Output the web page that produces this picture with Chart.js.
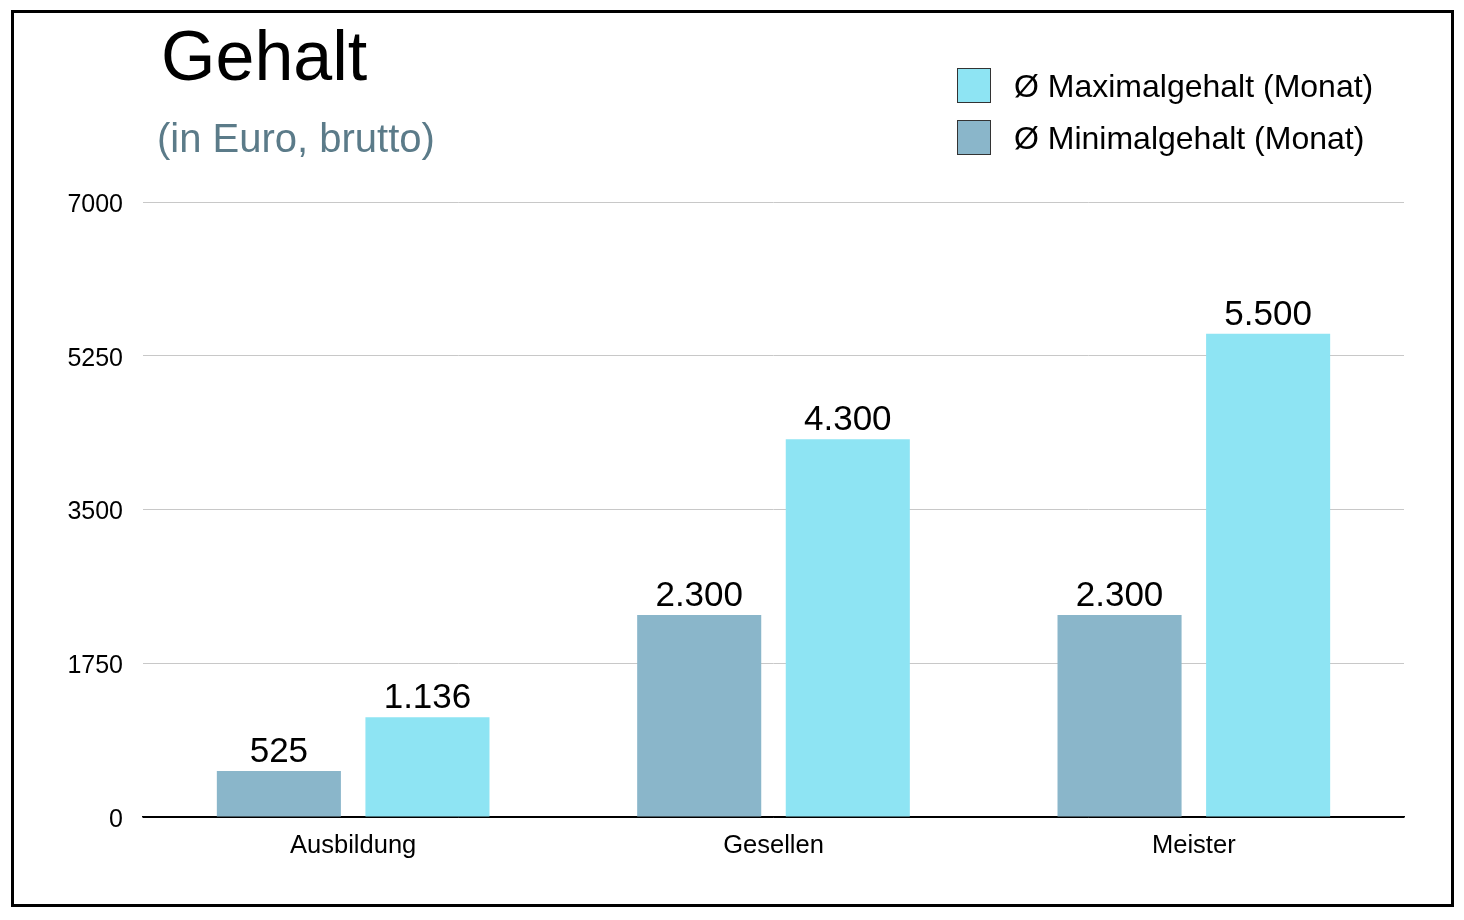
<!DOCTYPE html>
<html lang="de">
<head>
<meta charset="utf-8">
<title>Gehalt</title>
<script src="https://cdn.jsdelivr.net/npm/chart.js@4/dist/chart.umd.min.js"></script>
<style>
    html, body { margin: 0; padding: 0; background: #fff; }
    #wrap { position: relative; width: 1464px; height: 920px; }
    #frame {
        position: absolute; left: 11px; top: 10px; width: 1443px; height: 897px;
        border: 3px solid #000; box-sizing: border-box; pointer-events: none;
    }
</style>
</head>
<body>
<div id="wrap">
    <canvas id="salaryChart" width="1464" height="920"></canvas>
    <div id="frame"></div>
</div>
<script>
const categories = ['Ausbildung', 'Gesellen', 'Meister'];
const minSalary = [525, 2300, 2300];
const maxSalary = [1136, 4300, 5500];
const yTicks = [0, 1750, 3500, 5250, 7000];

const FONT = '"Liberation Sans", Arial, Helvetica, sans-serif';

// 1136 -> "1.136"
function formatDe(v) {
    return String(v).replace(/\B(?=(\d{3})+(?!\d))/g, '.');
}

const headerPlugin = {
    id: 'header',
    afterDraw(chart) {
        const ctx = chart.ctx;
        ctx.save();
        ctx.textAlign = 'left';
        ctx.textBaseline = 'alphabetic';
        ctx.fillStyle = '#000';
        ctx.font = '70px ' + FONT;
        ctx.fillText('Gehalt', 161, 80);
        ctx.fillStyle = '#5b7b89';
        ctx.font = '40px ' + FONT;
        ctx.fillText('(in Euro, brutto)', 157, 152);

        // legend, Maximalgehalt first
        const items = chart.data.datasets.slice().reverse();
        items.forEach((ds, i) => {
            const y = 68 + i * 52;
            ctx.fillStyle = ds.backgroundColor;
            ctx.fillRect(957, y, 33, 34);
            ctx.strokeStyle = '#333';
            ctx.lineWidth = 1;
            ctx.strokeRect(957.5, y + 0.5, 33, 34);
            ctx.fillStyle = '#000';
            ctx.font = '32px ' + FONT;
            ctx.textBaseline = 'middle';
            ctx.fillText(ds.label, 1014, y + 20);
        });
        ctx.restore();
    }
};

const valueLabelPlugin = {
    id: 'valueLabels',
    afterDatasetsDraw(chart) {
        const ctx = chart.ctx;
        ctx.save();
        ctx.fillStyle = '#000';
        ctx.font = '35px ' + FONT;
        ctx.textAlign = 'center';
        ctx.textBaseline = 'alphabetic';
        chart.data.datasets.forEach((ds, di) => {
            chart.getDatasetMeta(di).data.forEach((bar, i) => {
                ctx.fillText(formatDe(ds.data[i]), bar.x, bar.y - 9);
            });
        });
        ctx.restore();
    }
};

const ctx = document.getElementById('salaryChart').getContext('2d');
new Chart(ctx, {
    type: 'bar',
    data: {
        labels: categories,
        datasets: [{
            label: 'Ø Minimalgehalt (Monat)',
            data: minSalary,
            backgroundColor: '#8ab6ca'
        }, {
            label: 'Ø Maximalgehalt (Monat)',
            data: maxSalary,
            backgroundColor: '#8ee4f3'
        }]
    },
    options: {
        responsive: false,
        animation: false,
        categoryPercentage: 0.707,
        barPercentage: 0.835,
        layout: {
            padding: { top: 202, right: 60, bottom: 43, left: 0 }
        },
        plugins: {
            legend: { display: false },
            title: { display: false },
            tooltip: { enabled: false }
        },
        scales: {
            x: {
                grid: { display: false, drawTicks: false },
                border: { display: true, color: '#000', width: 1.5 },
                ticks: {
                    color: '#000',
                    padding: 14,
                    font: { family: FONT, size: 25.5 }
                },
                afterFit(scale) { scale.height = 60; }
            },
            y: {
                min: 0,
                max: 7000,
                afterBuildTicks(scale) {
                    scale.ticks = yTicks.map(v => ({ value: v }));
                },
                grid: {
                    drawTicks: false,
                    color: c => (c.tick && c.tick.value === 0) ? '#000' : '#c8c8c8',
                    lineWidth: 1
                },
                border: { display: false },
                ticks: {
                    color: '#000',
                    padding: 20,
                    labelOffset: 3,
                    font: { family: FONT, size: 25 },
                    callback: v => String(v)
                },
                afterFit(scale) { scale.width = 143; }
            }
        }
    },
    plugins: [headerPlugin, valueLabelPlugin]
});
</script>
</body>
</html>
